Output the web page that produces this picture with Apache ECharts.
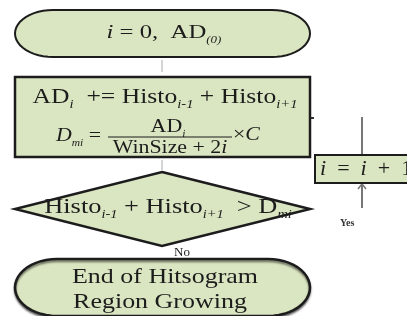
<!DOCTYPE html>
<html>
<head>
<meta charset="utf-8">
<script src="https://cdn.jsdelivr.net/npm/echarts@6/dist/echarts.min.js"></script>
<style>
  html, body { margin: 0; padding: 0; background: #fff; }
  #chart { width: 407px; height: 316px; }
</style>
</head>
<body>
<div id="chart"></div>
<script>
// flowchart contents (rich text markup: {it|..} italic, {sub|..} subscript)
var startLabel = ['{it|i} = 0,  AD{sub|(0)}'];
var updateLine = ['AD{sub|i}  += Histo{sub|i-1} + Histo{sub|i+1}'];
var thresholdParts = ['{it|D}{sub|mi} =', 'AD{sub|i}', 'WinSize + 2{it|i}', '×{it|C}'];
var decisionLabel = ['Histo{sub|i-1} + Histo{sub|i+1}  > D{sub|mi}'];
var stepLabel = ['{it|i}  =  {it|i}  +  1'];
var endLabel = ['End of Hitsogram', 'Region Growing'];
var branchLabels = ['Yes', 'No'];

var fill = '#dae5c1';
var ink = '#1c1c1c';
var serif = "'Liberation Serif', 'DejaVu Serif', serif";

function rich(size) {
  return {
    it: { fontSize: size, fontFamily: serif, fontStyle: 'italic', fill: ink, lineHeight: size + 6 },
    sub: { fontSize: Math.round(size * 0.55), fontFamily: serif, fontStyle: 'italic', fill: ink,
           lineHeight: Math.round(size * 0.55) + 2, verticalAlign: 'bottom' }
  };
}

// text stretched sideways a bit, like the scanned figure
function txt(text, x, y, size, align, sx, z) {
  return {
    type: 'text', z: z || 10, x: x, y: y, scaleX: sx || 1,
    style: {
      text: text, x: 0, y: 0, fill: ink,
      fontSize: size, fontFamily: serif, lineHeight: size + 6,
      align: align || 'center', verticalAlign: 'middle',
      rich: rich(size)
    }
  };
}

// outline of a terminator with elliptical caps
function stadium(x, y, w, h, cap) {
  var ry = h / 2, cy = y + ry, pts = [], n = 24, a, k;
  for (k = 0; k <= n; k++) {            // right cap, top -> bottom
    a = -Math.PI / 2 + Math.PI * k / n;
    pts.push([x + w - cap + cap * Math.cos(a), cy + ry * Math.sin(a)]);
  }
  for (k = 0; k <= n; k++) {            // left cap, bottom -> top
    a = Math.PI / 2 + Math.PI * k / n;
    pts.push([x + cap + cap * Math.cos(a), cy + ry * Math.sin(a)]);
  }
  return pts;
}

var chart = echarts.init(document.getElementById('chart'));
chart.setOption({
  backgroundColor: '#fff',
  graphic: [
    // connectors
    { type: 'line', shape: { x1: 162, y1: 60, x2: 162, y2: 72 }, style: { stroke: '#aaa', lineWidth: 1 } },
    { type: 'line', shape: { x1: 162, y1: 160, x2: 162, y2: 170 }, style: { stroke: '#aaa', lineWidth: 1 } },
    { type: 'line', shape: { x1: 310, y1: 118, x2: 314, y2: 118 }, style: { stroke: '#333', lineWidth: 2 } },
    { type: 'line', shape: { x1: 362, y1: 117, x2: 362, y2: 155 }, style: { stroke: '#777', lineWidth: 2 } },
    { type: 'line', shape: { x1: 362, y1: 208, x2: 362, y2: 184 }, style: { stroke: '#777', lineWidth: 2 } },
    { type: 'polyline', shape: { points: [[358, 189], [362, 184], [366, 189]] }, style: { stroke: '#777', lineWidth: 1.5, fill: 'none' } },

    // start terminator
    { type: 'polygon', shape: { points: stadium(15, 10, 295, 47, 38) },
      style: { fill: fill, stroke: ink, lineWidth: 2 } },
    txt(startLabel[0], 164, 33, 19, 'center', 1.3),

    // process box
    { type: 'rect', shape: { x: 15, y: 77, width: 295, height: 80 },
      style: { fill: fill, stroke: ink, lineWidth: 2.5 } },
    txt(updateLine[0], 165, 97, 21, 'center', 1.22),
    txt(thresholdParts[0], 101, 136, 19, 'right', 1.15),
    txt(thresholdParts[1], 168, 127, 19, 'center', 1.15),
    { type: 'line', z: 10, shape: { x1: 108, y1: 137, x2: 232, y2: 137 }, style: { stroke: ink, lineWidth: 1 } },
    txt(thresholdParts[2], 170, 148, 19, 'center', 1.15),
    txt(thresholdParts[3], 233, 135, 19, 'left', 1.15),

    // decision
    { type: 'polygon', shape: { points: [[162, 172], [310, 209], [162, 246], [15, 209]] },
      style: { fill: fill, stroke: ink, lineWidth: 2.5 } },
    txt(decisionLabel[0], 168, 207, 22, 'center', 1.2),

    // branch labels
    txt(branchLabels[1], 182, 253, 13),
    { type: 'text', z: 10, style: { text: branchLabels[0], x: 340, y: 223, fill: '#333', fontSize: 10,
      fontFamily: serif, fontWeight: 'bold', align: 'left', verticalAlign: 'middle' } },

    // increment step
    { type: 'rect', shape: { x: 315, y: 155, width: 100, height: 28 },
      style: { fill: fill, stroke: ink, lineWidth: 2 } },
    txt(stepLabel[0], 320, 169, 21, 'left', 1.05),

    // end terminator
    { type: 'polygon', z: 12, shape: { points: stadium(15, 259, 295, 57, 42) },
      style: { fill: fill, stroke: ink, lineWidth: 2.5, shadowColor: 'rgba(0,0,0,0.5)', shadowOffsetY: 2, shadowBlur: 2 } },
    txt(endLabel[0], 165, 277, 22, 'center', 1.18, 13),
    txt(endLabel[1], 160, 302, 22, 'center', 1.18, 13)
  ]
});
</script>
</body>
</html>
